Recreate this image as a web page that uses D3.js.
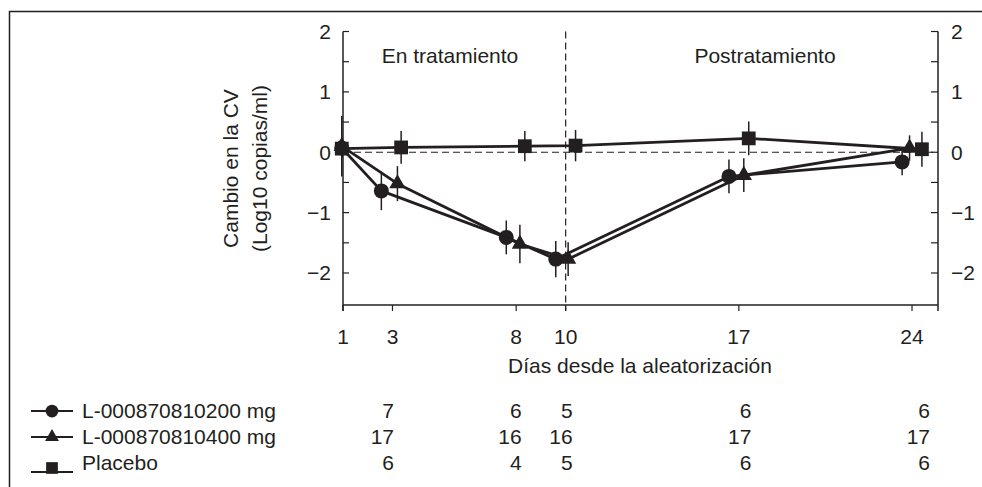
<!DOCTYPE html>
<html>
<head>
<meta charset="utf-8">
<script src="https://cdn.jsdelivr.net/npm/d3@7"></script>
<style>
  body { margin: 0; background: #fff; }
  svg { display: block; font-family: Arial, "Liberation Sans", Helvetica, sans-serif; }
  text { fill: #231f20; }
</style>
</head>
<body>
<div id="chart"></div>
<script>
// Días de medición y posición dibujada de cada marcador (ligeramente desplazada)
const days = [1, 3, 8, 10, 17, 24];
const xPos200 = [0.95, 2.55, 7.6, 9.6, 16.6, 23.6];
const xPos400 = [0.95, 3.2, 8.15, 10.1, 17.2, 23.9];
const xPosPlacebo = [0.95, 3.35, 8.35, 10.4, 17.4, 24.4];

// Cambio medio en la CV (log10 copias/ml)
const mean200 = [0.07, -0.64, -1.41, -1.77, -0.40, -0.16];
const mean400 = [0.10, -0.52, -1.52, -1.77, -0.38, 0.07];
const meanPlacebo = [0.06, 0.08, 0.10, 0.11, 0.23, 0.05];

// Semiamplitud de las barras de error
const err200 = [0.15, 0.32, 0.28, 0.30, 0.28, 0.22];
const err400 = [0.50, 0.29, 0.32, 0.28, 0.28, 0.21];
const errPlacebo = [0.15, 0.27, 0.25, 0.26, 0.28, 0.29];

// Número de pacientes por día
const tableDays = [3, 8, 10, 17, 24];
const n200 = [7, 6, 5, 6, 6];
const n400 = [17, 16, 16, 17, 17];
const nPlacebo = [6, 4, 5, 6, 6];

const seriesNames = ['L-000870810200 mg', 'L-000870810400 mg', 'Placebo'];
const yTicks = [-2, -1, 0, 1, 2];
const yMinorTicks = [-1.5, -0.5, 0.5, 1.5];

const W = 982, H = 487;
const svg = d3.select('#chart').append('svg')
    .attr('width', W)
    .attr('height', H);

// Marco exterior
svg.append('rect')
    .attr('x', 9.5).attr('y', 11.5)
    .attr('width', 1000).attr('height', 600)
    .attr('fill', 'none')
    .attr('stroke', '#231f20')
    .attr('stroke-width', 1.5);

// Escalas
const x = d3.scaleLinear().domain([1, 25.05]).range([343, 938]);
const y = d3.scaleLinear().domain([-2.53, 2]).range([305, 31.5]);
const colX = d3.scaleLinear().domain([3, 24]).range([394, 930]);

const ink = '#231f20';
const fs = 21;

// Eje izquierdo
const leftAxis = svg.append('g').attr('transform', `translate(${x(1)},0)`);
leftAxis.append('line')
    .attr('y1', y(2)).attr('y2', y.range()[0] + 6)
    .attr('stroke', ink).attr('stroke-width', 1.5);
leftAxis.selectAll('.tk').data(yTicks.concat(yMinorTicks)).enter().append('line')
    .attr('x1', 0).attr('x2', 6)
    .attr('y1', d => y(d)).attr('y2', d => y(d))
    .attr('stroke', ink).attr('stroke-width', 1.2);
leftAxis.selectAll('.lb').data(yTicks).enter().append('text')
    .attr('x', -12).attr('y', d => y(d))
    .attr('dy', '0.35em')
    .attr('text-anchor', 'end')
    .style('font-size', fs + 'px')
    .text(d => d < 0 ? '\u2212' + Math.abs(d) : d);

// Eje derecho
const rightAxis = svg.append('g').attr('transform', `translate(${x.range()[1]},0)`);
rightAxis.append('line')
    .attr('y1', y(2)).attr('y2', y.range()[0] + 6)
    .attr('stroke', ink).attr('stroke-width', 1.5);
rightAxis.selectAll('.tk').data(yTicks.concat(yMinorTicks)).enter().append('line')
    .attr('x1', 0).attr('x2', -7)
    .attr('y1', d => y(d)).attr('y2', d => y(d))
    .attr('stroke', ink).attr('stroke-width', 1.2);
rightAxis.selectAll('.lb').data(yTicks).enter().append('text')
    .attr('x', 13).attr('y', d => y(d))
    .attr('dy', '0.35em')
    .style('font-size', fs + 'px')
    .text(d => d < 0 ? '\u2212' + Math.abs(d) : d);

// Eje inferior
const xAxis = svg.append('g').attr('transform', `translate(0,${y.range()[0]})`);
xAxis.append('line')
    .attr('x1', x.range()[0]).attr('x2', x.range()[1])
    .attr('stroke', ink).attr('stroke-width', 1.5);
xAxis.selectAll('.tk').data(days).enter().append('line')
    .attr('x1', d => x(d)).attr('x2', d => x(d))
    .attr('y1', 0).attr('y2', 6)
    .attr('stroke', ink).attr('stroke-width', 1.2);
xAxis.selectAll('.lb').data(days).enter().append('text')
    .attr('x', d => x(d)).attr('y', 32)
    .attr('dy', '0.35em')
    .attr('text-anchor', 'middle')
    .style('font-size', fs + 'px')
    .text(d => d);

svg.append('text')
    .attr('x', 640).attr('y', 366)
    .attr('dy', '0.35em')
    .attr('text-anchor', 'middle')
    .style('font-size', fs + 'px')
    .text('Días desde la aleatorización');

// Título del eje Y
const yTitle = svg.append('text')
    .attr('transform', `translate(231,${y(-0.27)}) rotate(-90)`)
    .attr('text-anchor', 'middle')
    .style('font-size', fs + 'px');
yTitle.append('tspan').attr('x', 0).attr('dy', '0.35em').text('Cambio en la CV');
yTitle.append('tspan').attr('x', 0).attr('dy', '1.35em').text('(Log10 copias/ml)');

// Líneas de referencia discontinuas
svg.append('line')
    .attr('x1', x.range()[0]).attr('x2', x.range()[1])
    .attr('y1', y(0)).attr('y2', y(0))
    .attr('stroke', ink).attr('stroke-width', 1.2)
    .attr('stroke-dasharray', '7,4');
svg.append('line')
    .attr('x1', x(10)).attr('x2', x(10))
    .attr('y1', y(2)).attr('y2', y.range()[0] + 6)
    .attr('stroke', ink).attr('stroke-width', 1.2)
    .attr('stroke-dasharray', '7,4');

svg.append('text')
    .attr('x', 450).attr('y', 63)
    .attr('text-anchor', 'middle')
    .style('font-size', fs + 'px')
    .text('En tratamiento');
svg.append('text')
    .attr('x', 765).attr('y', 63)
    .attr('text-anchor', 'middle')
    .style('font-size', fs + 'px')
    .text('Postratamiento');

// Series
const series = [
    {name: seriesNames[0], xs: xPos200, ys: mean200, err: err200, shape: 'circle'},
    {name: seriesNames[1], xs: xPos400, ys: mean400, err: err400, shape: 'triangle'},
    {name: seriesNames[2], xs: xPosPlacebo, ys: meanPlacebo, err: errPlacebo, shape: 'square'}
];

const line = d3.line().x(d => x(d[0])).y(d => y(d[1]));

function drawMarker(g, shape, scale) {
    if (shape === 'circle') {
        g.append('circle').attr('r', 7.5 * scale).attr('fill', ink);
    } else if (shape === 'triangle') {
        g.append('path')
            .attr('d', d3.symbol().type(d3.symbolTriangle).size(115 * scale * scale)())
            .attr('fill', ink);
    } else {
        g.append('path')
            .attr('d', d3.symbol().type(d3.symbolSquare).size(190 * scale * scale)())
            .attr('fill', ink);
    }
}

series.forEach(s => {
    const pts = s.xs.map((v, i) => [v, s.ys[i], s.err[i]]);
    const g = svg.append('g');
    g.append('path')
        .attr('d', line(pts))
        .attr('fill', 'none')
        .attr('stroke', ink)
        .attr('stroke-width', 2.8)
        .attr('stroke-linejoin', 'round');
    g.selectAll('.eb').data(pts).enter().append('line')
        .attr('x1', d => x(d[0])).attr('x2', d => x(d[0]))
        .attr('y1', d => y(d[1] - d[2])).attr('y2', d => y(d[1] + d[2]))
        .attr('stroke', ink).attr('stroke-width', 1.5);
    pts.forEach(d => {
        const m = g.append('g').attr('transform', `translate(${x(d[0])},${y(d[1])})`);
        drawMarker(m, s.shape, 1);
    });
});

// Tabla de pacientes
const rowY = [411, 437, 463];
const counts = [n200, n400, nPlacebo];
series.forEach((s, i) => {
    const row = svg.append('g').attr('transform', `translate(0,${rowY[i]})`);
    const ly = s.shape === 'square' ? 9 : 0;
    row.append('line')
        .attr('x1', 31).attr('x2', 73)
        .attr('y1', ly).attr('y2', ly)
        .attr('stroke', ink).attr('stroke-width', 1.8);
    const m = row.append('g').attr('transform', `translate(52,${s.shape === 'square' ? 5 : 0})`);
    drawMarker(m, s.shape, 0.85);
    row.append('text')
        .attr('x', 82).attr('dy', '0.35em')
        .style('font-size', fs + 'px')
        .text(s.name);
    row.selectAll('.n').data(counts[i]).enter().append('text')
        .attr('x', (d, j) => colX(tableDays[j]))
        .attr('dy', '0.35em')
        .attr('text-anchor', 'end')
        .style('font-size', fs + 'px')
        .text(d => d);
});
</script>
</body>
</html>
